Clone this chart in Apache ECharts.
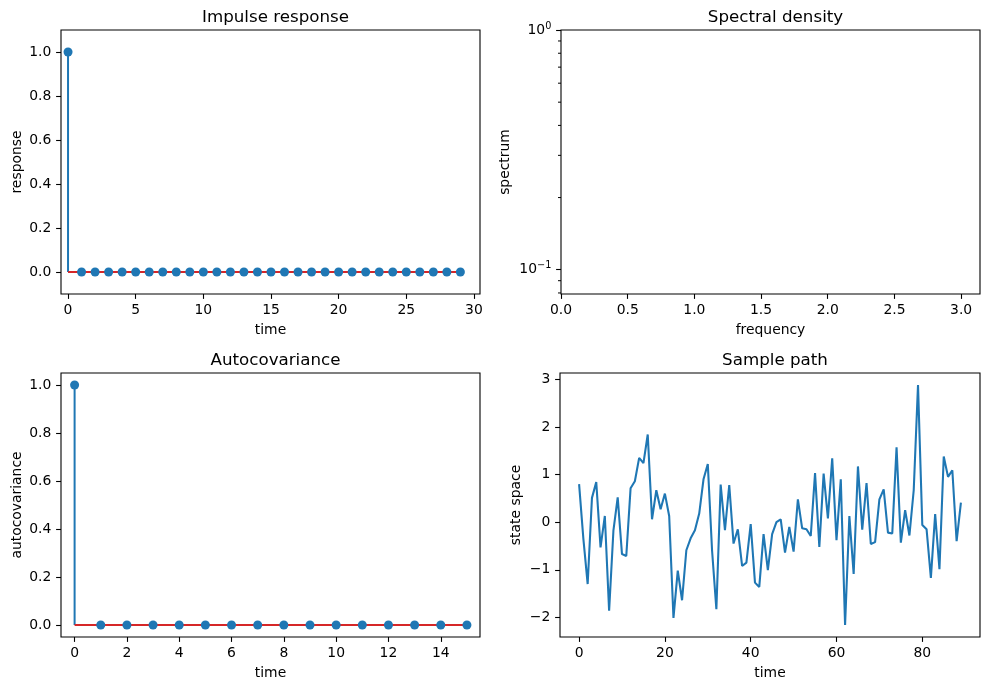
<!DOCTYPE html>
<html><head><meta charset="utf-8">
<script src="https://cdn.jsdelivr.net/npm/echarts@6/dist/echarts.min.js"></script>
<style>html,body{margin:0;padding:0;background:#fff}#c{width:989px;height:690px}#err{position:absolute;left:600px;top:100px;color:red;font:12px sans-serif}</style>
</head><body><div id="c"></div><div id="err"></div>
<script>
// ---- data ----
const impulseTime = [0,1,2,3,4,5,6,7,8,9,10,11,12,13,14,15,16,17,18,19,20,21,22,23,24,25,26,27,28,29];
const impulseResponse = [1,0,0,0,0,0,0,0,0,0,0,0,0,0,0,0,0,0,0,0,0,0,0,0,0,0,0,0,0,0];
const impulseXTicks = [0,5,10,15,20,25,30];
const impulseYTicks = [0,0.2,0.4,0.6,0.8,1.0];

const spectralXTicks = [0,0.5,1.0,1.5,2.0,2.5,3.0];
const spectralYMajorTicks = [0.1,1];
const spectralYMinorTicks = [0.08,0.09,0.2,0.3,0.4,0.5,0.6,0.7,0.8,0.9];

const acovLag = [0,1,2,3,4,5,6,7,8,9,10,11,12,13,14,15];
const acovValue = [1,0,0,0,0,0,0,0,0,0,0,0,0,0,0,0];
const acovXTicks = [0,2,4,6,8,10,12,14];
const acovYTicks = [0,0.2,0.4,0.6,0.8,1.0];

const pathTime = [0,1,2,3,4,5,6,7,8,9,10,11,12,13,14,15,16,17,18,19,20,21,22,23,24,25,26,27,28,29,
  30,31,32,33,34,35,36,37,38,39,40,41,42,43,44,45,46,47,48,49,50,51,52,53,54,55,56,57,58,59,
  60,61,62,63,64,65,66,67,68,69,70,71,72,73,74,75,76,77,78,79,80,81,82,83,84,85,86,87,88,89];
const pathValue = [0.80,-0.35,-1.30,0.51,0.84,-0.53,0.13,-1.86,-0.18,0.52,
  -0.67,-0.71,0.71,0.86,1.35,1.24,1.84,0.06,0.67,0.27,
  0.60,0.13,-2.01,-1.02,-1.64,-0.59,-0.34,-0.17,0.18,0.90,
  1.22,-0.60,-1.83,0.79,-0.17,0.78,-0.45,-0.15,-0.92,-0.85,
  -0.04,-1.27,-1.36,-0.25,-1.01,-0.25,0.00,0.06,-0.64,-0.10,
  -0.62,0.48,-0.13,-0.15,-0.29,1.03,-0.52,1.02,0.08,1.34,
  -0.38,0.90,-2.16,0.13,-1.09,1.17,-0.16,0.82,-0.46,-0.42,
  0.48,0.69,-0.22,-0.24,1.57,-0.43,0.25,-0.28,0.67,2.88,
  -0.06,-0.15,-1.17,0.17,-0.99,1.38,0.95,1.09,-0.40,0.41];
const pathXTicks = [0,20,40,60,80];
const pathYTicks = [-2,-1,0,1,2,3];

// ---- styling ----
const FONT = 'DejaVu Sans';
const BLUE = '#1f77b4', RED = '#d62728';
const TICK_FS = 13.9, TITLE_FS = 16.7;
const minus = s => String(s).replace('-', '\u2212');

function axis(dim, gridIndex, opt) {
  return Object.assign({
    type: 'value', gridIndex,
    name: opt.name, nameLocation: 'middle', nameGap: opt.nameGap,
    nameTextStyle: {fontFamily: FONT, fontSize: TICK_FS, color: '#000'},
    min: opt.min, max: opt.max,
    axisLine: {show: false, onZero: false},
    splitLine: {show: false},
    axisTick: {show: true, length: 4.9, customValues: opt.ticks, lineStyle: {color: '#000', width: 1.1}},
    axisLabel: {show: true, customValues: opt.ticks, margin: 9.7, color: '#000',
      fontFamily: FONT, fontSize: TICK_FS, formatter: opt.fmt, showMinLabel: true, showMaxLabel: true}
  }, opt.extra || {});
}

const grids = [
  {left: 61, top: 30, width: 419, height: 264},
  {left: 561, top: 30, width: 419, height: 264},
  {left: 61, top: 373, width: 419, height: 264},
  {left: 560, top: 373, width: 420, height: 264}
].map(g => Object.assign(g, {show: true, borderColor: '#000', borderWidth: 1.1, backgroundColor: 'transparent', containLabel: false}));

const titles = [
  ['Impulse response', 270.5, 4],
  ['Spectral density', 770.5, 4],
  ['Autocovariance', 270.5, 347],
  ['Sample path', 770, 347]
].map(t => ({text: t[0], left: t[1], top: t[2], textAlign: 'center',
  textStyle: {fontFamily: FONT, fontSize: TITLE_FS, fontWeight: 'normal', color: '#000'}}));

const f1 = v => minus(v.toFixed(1));
const f0 = v => minus(String(v));

const xAxes = [
  axis('x', 0, {name: 'time', nameGap: 29, min: -0.52, max: 30.45, ticks: impulseXTicks, fmt: f0}),
  axis('x', 1, {name: 'frequency', nameGap: 29, min: 0, max: Math.PI, ticks: spectralXTicks, fmt: f1}),
  axis('x', 2, {name: 'time', nameGap: 29, min: -0.52, max: 15.5, ticks: acovXTicks, fmt: f0}),
  axis('x', 3, {name: 'time', nameGap: 29, min: -4.45, max: 93.45, ticks: pathXTicks, fmt: f0})
];

const supFmt = v => '{b|10}{s|' + minus(Math.round(Math.log10(v))) + '}';
const yAxes = [
  axis('y', 0, {name: 'response', nameGap: 37, min: -0.1, max: 1.1, ticks: impulseYTicks, fmt: f1}),
  axis('y', 1, {name: 'spectrum', nameGap: 49, min: 0.0792, max: 1, ticks: spectralYMajorTicks, fmt: supFmt,
    extra: {type: 'log', logBase: 10, position: 'left'}}),
  axis('y', 2, {name: 'autocovariance', nameGap: 37, min: -0.05, max: 1.05, ticks: acovYTicks, fmt: f1}),
  axis('y', 3, {name: 'state space', nameGap: 37, min: -2.412, max: 3.132, ticks: pathYTicks, fmt: f0})
];
yAxes[1].axisLabel.rich = {
  b: {fontFamily: FONT, fontSize: TICK_FS, color: '#000'},
  s: {fontFamily: FONT, fontSize: 9.7, color: '#000', verticalAlign: 'top', padding: [0, 0, 8, 0]}
};

function stems(idx, xs, ys) {
  return [
    {type: 'bar', xAxisIndex: idx, yAxisIndex: idx, barWidth: 2, data: xs.map((x, i) => [x, ys[i]]),
      itemStyle: {color: BLUE}, silent: true, z: 2},
    {type: 'line', xAxisIndex: idx, yAxisIndex: idx, showSymbol: false, symbol: 'none',
      data: [[xs[0], 0], [xs[xs.length - 1], 0]], lineStyle: {color: RED, width: 2.08}, z: 3, silent: true},
    {type: 'scatter', xAxisIndex: idx, yAxisIndex: idx, symbolSize: 9, data: xs.map((x, i) => [x, ys[i]]),
      itemStyle: {color: BLUE, opacity: 1}, z: 4, silent: true}
  ];
}

// minor log ticks on the spectral density y axis, placed through the axis scale
const minorTicks = {
  type: 'scatter', xAxisIndex: 1, yAxisIndex: 1, silent: true, clip: false, z: 10,
  symbol: 'rect', symbolSize: [3, 1], symbolOffset: [-1.5, 0],
  data: spectralYMinorTicks.map(v => [spectralXTicks[0], v]),
  itemStyle: {color: '#000', opacity: 1}
};

const series = [].concat(
  stems(0, impulseTime, impulseResponse),
  stems(2, acovLag, acovValue),
  [{type: 'line', xAxisIndex: 3, yAxisIndex: 3, showSymbol: false, symbol: 'none',
    data: pathTime.map((t, i) => [t, pathValue[i]]), lineStyle: {color: BLUE, width: 2.08}, silent: true},
   minorTicks]
);

try {
  const chart = echarts.init(document.getElementById('c'), null, {renderer: 'canvas'});
  chart.setOption({
    animation: false,
    backgroundColor: '#fff',
    title: titles,
    grid: grids,
    xAxis: xAxes,
    yAxis: yAxes,
    series
  });
} catch (e) { document.getElementById('err').textContent = String(e); }
</script></body></html>
